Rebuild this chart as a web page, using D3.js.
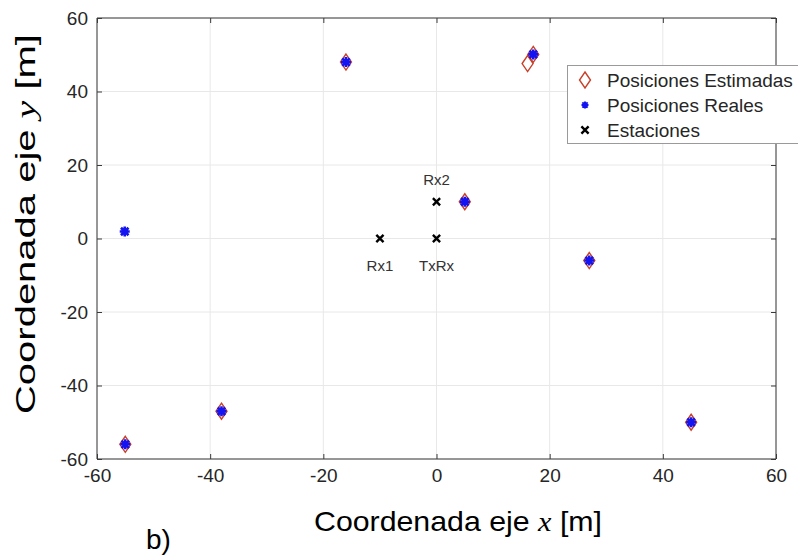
<!DOCTYPE html>
<html>
<head>
<meta charset="utf-8">
<script src="https://cdn.jsdelivr.net/npm/d3@7"></script>
<style>
  html, body { margin: 0; padding: 0; background: #fff; }
  svg { display: block; font-family: "Liberation Sans", Arial, sans-serif; }
</style>
</head>
<body>
<svg id="chart" width="798" height="556"></svg>
<script>
// ---- data ----
const xTicks = [-60, -40, -20, 0, 20, 40, 60];
const yTicks = [-60, -40, -20, 0, 20, 40, 60];

const estX = [-55, -38, -16, 16.1, 17.1, 5, 27, 45];
const estY = [-56, -47, 48, 47.6, 50.1, 10, -6, -50];

const realX = [-55.1, -55, -38, -16, 17.1, 5, 27, 45];
const realY = [1.9, -56, -47, 48, 50.1, 10, -6, -50];

const stationX = [-10, 0, 0];
const stationY = [0, 0, 10];
const stationNames = ["Rx1", "TxRx", "Rx2"];
const stationLabelSide = ["below", "below", "above"];

const legendLabels = ["Posiciones Estimadas", "Posiciones Reales", "Estaciones"];

// ---- layout ----
const svg = d3.select("#chart");
const L = 97, R = 776, T = 18, B = 459;
const x = d3.scaleLinear().domain([-60, 60]).range([L, R]);
const y = d3.scaleLinear().domain([-60, 60]).range([B, T]);

const axisColor = "#3a3a3a";
const gridColor = "#e8e8e8";
const textColor = "#262626";
const red = "#c8402a";
const blue = "#1414f0";

// grid
const g = svg.append("g");
g.selectAll(".gx").data(xTicks).join("line")
  .attr("x1", d => x(d)).attr("x2", d => x(d)).attr("y1", T).attr("y2", B)
  .attr("stroke", gridColor).attr("stroke-width", 1);
g.selectAll(".gy").data(yTicks).join("line")
  .attr("y1", d => y(d)).attr("y2", d => y(d)).attr("x1", L).attr("x2", R)
  .attr("stroke", gridColor).attr("stroke-width", 1);

// axes (ticks inward)
const fmt = d => String(d);
const xAxisB = d3.axisBottom(x).tickValues(xTicks).tickSize(-5).tickPadding(10).tickFormat(fmt);
const xAxisT = d3.axisTop(x).tickValues(xTicks).tickSize(-5).tickFormat("");
const yAxisL = d3.axisLeft(y).tickValues(yTicks).tickSize(-5).tickPadding(9).tickFormat(fmt);
const yAxisR = d3.axisRight(y).tickValues(yTicks).tickSize(-5).tickFormat("");

function style(sel) {
  sel.select(".domain").attr("stroke", axisColor).attr("stroke-width", 1);
  sel.selectAll(".tick line").attr("stroke", axisColor);
  sel.selectAll(".tick text").attr("fill", textColor).style("font-size", "19px")
     .style("font-family", "'Liberation Sans', Arial, sans-serif");
}
svg.append("g").attr("transform", `translate(0,${B})`).call(xAxisB).call(style)
   .call(s => s.select(".domain").attr("d", `M${L},0H${R}`));
svg.append("g").attr("transform", `translate(0,${T})`).call(xAxisT).call(style)
   .call(s => s.select(".domain").attr("d", `M${L},0H${R}`));
svg.append("g").attr("transform", `translate(${L},0)`).call(yAxisL).call(style)
   .call(s => s.select(".domain").attr("d", `M0,${T}V${B}`));
svg.append("g").attr("transform", `translate(${R},0)`).call(yAxisR).call(style)
   .call(s => s.select(".domain").attr("d", `M0,${T}V${B}`));

// marker drawers
function diamond(sel, cx, cy) {
  sel.append("path")
    .attr("d", `M${cx},${cy - 8}L${cx + 5.5},${cy}L${cx},${cy + 8}L${cx - 5.5},${cy}Z`)
    .attr("fill", "none").attr("stroke", red).attr("stroke-width", 1.4);
}
function star(sel, cx, cy) {
  const r = 5, d = r * 0.75;
  sel.append("path")
    .attr("d", `M${cx - r},${cy}H${cx + r}M${cx},${cy - r}V${cy + r}` +
               `M${cx - d},${cy - d}L${cx + d},${cy + d}M${cx - d},${cy + d}L${cx + d},${cy - d}`)
    .attr("fill", "none").attr("stroke", blue).attr("stroke-width", 2.6);
}
function cross(sel, cx, cy) {
  const r = 3.6;
  sel.append("path")
    .attr("d", `M${cx - r},${cy - r}L${cx + r},${cy + r}M${cx - r},${cy + r}L${cx + r},${cy - r}`)
    .attr("fill", "none").attr("stroke", "#000").attr("stroke-width", 2.4);
}

// estimated positions
const est = svg.append("g");
estX.forEach((v, i) => diamond(est, x(v), y(estY[i])));
// real positions
const real = svg.append("g");
realX.forEach((v, i) => star(real, x(v), y(realY[i])));
// stations
const st = svg.append("g");
stationX.forEach((v, i) => {
  cross(st, x(v), y(stationY[i]));
  st.append("text")
    .attr("x", x(v))
    .attr("y", stationLabelSide[i] === "above" ? y(stationY[i]) - 17 : y(stationY[i]) + 32)
    .attr("text-anchor", "middle")
    .attr("fill", "#333")
    .style("font-size", "15px")
    .text(stationNames[i]);
});

// legend
const lg = svg.append("g");
lg.append("rect").attr("x", 567.5).attr("y", 65.5).attr("width", 240).attr("height", 78)
  .attr("fill", "#fff").attr("stroke", "#9a9a9a").attr("stroke-width", 1);
const legRowY = [80, 105, 130];
const legDraw = [diamond, (s, a, b) => {
  const r = 3.5, d = r * 0.75;
  s.append("path")
    .attr("d", `M${a - r},${b}H${a + r}M${a},${b - r}V${b + r}M${a - d},${b - d}L${a + d},${b + d}M${a - d},${b + d}L${a + d},${b - d}`)
    .attr("fill", "none").attr("stroke", blue).attr("stroke-width", 2);
}, cross];
legendLabels.forEach((t, i) => {
  legDraw[i](lg, 585, legRowY[i]);
  lg.append("text").attr("x", 607).attr("y", legRowY[i] + 7)
    .attr("fill", textColor).style("font-size", "19px").text(t);
});

// axis titles
const xt = svg.append("text").attr("x", 458).attr("y", 531).attr("text-anchor", "middle")
  .attr("fill", "#000").style("font-size", "28px")
  .attr("textLength", 288).attr("lengthAdjust", "spacingAndGlyphs");
xt.append("tspan").text("Coordenada eje ");
xt.append("tspan").style("font-family", "'Liberation Serif', 'DejaVu Serif', serif")
  .style("font-style", "italic").text("x");
xt.append("tspan").text(" [m]");

const yt = svg.append("text").attr("transform", "translate(35,224) rotate(-90)")
  .attr("text-anchor", "middle").attr("fill", "#000").style("font-size", "28px")
  .attr("textLength", 380).attr("lengthAdjust", "spacingAndGlyphs");
yt.append("tspan").text("Coordenada eje ");
yt.append("tspan").style("font-family", "'Liberation Serif', 'DejaVu Serif', serif")
  .style("font-style", "italic").text("y");
yt.append("tspan").text(" [m]");

svg.append("text").attr("x", 146).attr("y", 549).attr("fill", "#000")
  .style("font-size", "28px").text("b)");
</script>
</body>
</html>
